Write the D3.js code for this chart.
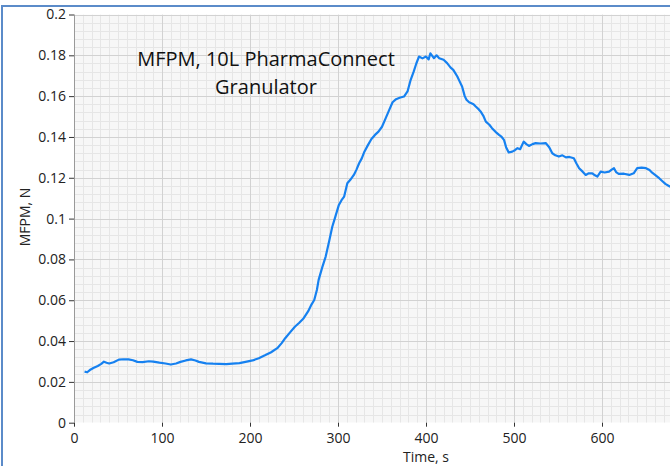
<!DOCTYPE html>
<html>
<head>
<meta charset="utf-8">
<script src="https://cdn.jsdelivr.net/npm/d3@7"></script>
<style>
  html, body { margin: 0; padding: 0; background: #fff; }
  svg { display: block; font-family: "Open Sans", sans-serif; }
</style>
</head>
<body>
<div id="chart"></div>
<script>
// time (s) and MFPM (N)
var timeS = [12, 15, 18, 22, 27, 31, 34, 37, 40, 45, 51, 56, 62, 67, 72, 78, 85, 90, 97, 104,
  110, 116, 121, 127, 133, 138, 142, 150, 158, 165, 173, 180, 188, 195, 203, 210, 217, 224, 231, 236,
  240, 246, 251, 256, 261, 266, 270, 273, 276, 278, 282, 286, 290, 293.5, 297, 301, 304, 307, 310.6, 314,
  318, 321, 324, 327, 330, 334, 338, 342, 346, 350, 354, 358, 362, 366, 370, 375, 379, 382.6, 386, 389,
  392, 396, 400, 403, 405, 409, 412, 415, 420, 424, 428, 431, 435.6, 439, 441, 444, 446, 449, 451, 454,
  456.5, 460, 462, 465, 468, 472, 475, 479, 483, 486, 488.6, 491, 494, 498, 501, 504, 507, 511, 514, 517,
  521, 524.6, 530, 536, 540, 543.5, 547, 551, 555, 559, 563, 568, 571, 574, 578, 581.5, 585, 589, 592, 594.7,
  598.5, 603, 608, 611, 613.6, 616, 619, 625, 631, 636, 640, 645, 650, 654, 657, 661, 665, 669, 672, 676, 680];
var mfpm = [0.0250, 0.0247, 0.0258, 0.0268, 0.0278, 0.0288, 0.0299, 0.0294, 0.0290, 0.0296, 0.0309, 0.0311, 0.0310, 0.0306, 0.0298, 0.0297, 0.0301, 0.0299, 0.0294, 0.0290,
  0.0285, 0.0290, 0.0298, 0.0305, 0.0310, 0.0305, 0.0298, 0.0291, 0.0289, 0.0288, 0.0287, 0.0289, 0.0292, 0.0298, 0.0305, 0.0316, 0.0330, 0.0345, 0.0365, 0.0390,
  0.0414, 0.0445, 0.0470, 0.0490, 0.0512, 0.0545, 0.0580, 0.0601, 0.0650, 0.0700, 0.0760, 0.0814, 0.0890, 0.0960, 0.1010, 0.1067, 0.1090, 0.1108, 0.1173, 0.1190,
  0.1214, 0.1240, 0.1271, 0.1295, 0.1328, 0.1360, 0.1390, 0.1410, 0.1426, 0.1450, 0.1490, 0.1530, 0.1570, 0.1585, 0.1592, 0.1598, 0.1623, 0.1680, 0.1720, 0.1760,
  0.1794, 0.1785, 0.1794, 0.1780, 0.1810, 0.1786, 0.1800, 0.1786, 0.1778, 0.1762, 0.1740, 0.1729, 0.1696, 0.1665, 0.1647, 0.1600, 0.1582, 0.1570, 0.1566, 0.1560,
  0.1549, 0.1535, 0.1525, 0.1505, 0.1475, 0.1460, 0.1443, 0.1425, 0.1410, 0.1400, 0.1386, 0.1350, 0.1324, 0.1328, 0.1335, 0.1345, 0.1340, 0.1377, 0.1365, 0.1356,
  0.1365, 0.1370, 0.1368, 0.1370, 0.1350, 0.1320, 0.1310, 0.1304, 0.1310, 0.1300, 0.1302, 0.1296, 0.1270, 0.1247, 0.1230, 0.1214, 0.1222, 0.1222, 0.1212, 0.1206,
  0.1230, 0.1226, 0.1230, 0.1240, 0.1247, 0.1228, 0.1219, 0.1220, 0.1214, 0.1222, 0.1247, 0.1250, 0.1247, 0.1238, 0.1225, 0.1212, 0.1198, 0.1182, 0.1170, 0.1160, 0.1150];
var xTicks = [0, 100, 200, 300, 400, 500, 600];
var yTicks = [0, 0.02, 0.04, 0.06, 0.08, 0.1, 0.12, 0.14, 0.16, 0.18, 0.2];
var titleLines = ["MFPM, 10L PharmaConnect", "Granulator"];

var W = 670, H = 466;
var plotL = 74, plotT = 14.5, plotB = 422.7;

var x = d3.scaleLinear().domain([0, 700]).range([plotL, plotL + 616]);
var y = d3.scaleLinear().domain([0, 0.2]).range([plotB, plotT]);

var svg = d3.select("#chart").append("svg")
    .attr("width", W)
    .attr("height", H);

svg.append("defs").append("clipPath").attr("id", "plotclip")
  .append("rect")
    .attr("x", plotL).attr("y", plotT)
    .attr("width", W - plotL).attr("height", plotB - plotT);

// frame
svg.append("path")
    .attr("d", "M2," + H + "V6H" + W)
    .attr("fill", "none")
    .attr("stroke", "#5b8bc9")
    .attr("stroke-width", 2);

var plot = svg.append("g").attr("clip-path", "url(#plotclip)");

plot.append("rect")
    .attr("x", plotL).attr("y", plotT)
    .attr("width", W - plotL).attr("height", plotB - plotT)
    .attr("fill", "#f7f7f7");

// minor grid
plot.selectAll(".vminor")
    .data(d3.range(10, 700, 10))
  .enter().append("line")
    .attr("x1", function(d) { return Math.round(x(d)) + 0.5; }).attr("x2", function(d) { return Math.round(x(d)) + 0.5; })
    .attr("y1", plotT).attr("y2", plotB)
    .attr("stroke", "#e6e6e6").attr("stroke-width", 1);

plot.selectAll(".hminor")
    .data(d3.range(1, 50))
  .enter().append("line")
    .attr("x1", plotL).attr("x2", W)
    .attr("y1", function(d) { return Math.round(y(d * 0.004)) + 0.5; }).attr("y2", function(d) { return Math.round(y(d * 0.004)) + 0.5; })
    .attr("stroke", "#e6e6e6").attr("stroke-width", 1);

// major grid
plot.selectAll(".vmajor")
    .data(xTicks.slice(1))
  .enter().append("line")
    .attr("x1", function(d) { return Math.round(x(d)) + 0.5; }).attr("x2", function(d) { return Math.round(x(d)) + 0.5; })
    .attr("y1", plotT).attr("y2", plotB)
    .attr("stroke", "#d2d2d2").attr("stroke-width", 1);

plot.selectAll(".hmajor")
    .data(yTicks.slice(1))
  .enter().append("line")
    .attr("x1", plotL).attr("x2", W)
    .attr("y1", function(d) { return Math.round(y(d)) + 0.5; }).attr("y2", function(d) { return Math.round(y(d)) + 0.5; })
    .attr("stroke", "#d2d2d2").attr("stroke-width", 1);

// title
svg.append("text")
    .attr("x", 266).attr("y", 66)
    .attr("text-anchor", "middle")
    .attr("font-size", 20)
    .attr("fill", "#111")
  .selectAll("tspan")
    .data(titleLines)
  .enter().append("tspan")
    .attr("x", 266)
    .attr("dy", function(d, i) { return i ? 28 : 0; })
    .text(function(d) { return d; });

var line = d3.line()
    .x(function(d) { return x(d[0]); })
    .y(function(d) { return y(d[1]); });

plot.append("path")
    .datum(d3.zip(timeS, mfpm))
    .attr("fill", "none")
    .attr("stroke", "#1681f0")
    .attr("stroke-width", 2.2)
    .attr("stroke-linejoin", "round")
    .attr("d", line);

// axes
var yAxis = svg.append("g")
    .attr("transform", "translate(" + plotL + ",0)")
    .call(d3.axisLeft(y).tickValues(yTicks).tickSize(5).tickPadding(3)
      .tickFormat(function(d) { return d3.format("~g")(d); }));
yAxis.select(".domain").attr("stroke", "#999").attr("d", "M0.5," + plotT + "V" + plotB);
yAxis.selectAll(".tick line").attr("stroke", "#333");
yAxis.selectAll("text").attr("font-size", 14).attr("fill", "#222").attr("font-family", "Open Sans");

var xAxis = svg.append("g")
    .attr("transform", "translate(0," + plotB + ")")
    .call(d3.axisBottom(x).tickValues(xTicks).tickSize(4).tickPadding(6));
xAxis.select(".domain").remove();
xAxis.selectAll(".tick line").attr("stroke", "#333");
xAxis.selectAll("text").attr("font-size", 14).attr("fill", "#222").attr("font-family", "Open Sans");

svg.append("text")
    .attr("x", 426).attr("y", 462)
    .attr("text-anchor", "middle")
    .attr("font-size", 14)
    .attr("fill", "#222")
    .text("Time, s");

svg.append("text")
    .attr("transform", "translate(30,217) rotate(-90)")
    .attr("text-anchor", "middle")
    .attr("font-size", 14)
    .attr("fill", "#222")
    .text("MFPM, N");
</script>
</body>
</html>
